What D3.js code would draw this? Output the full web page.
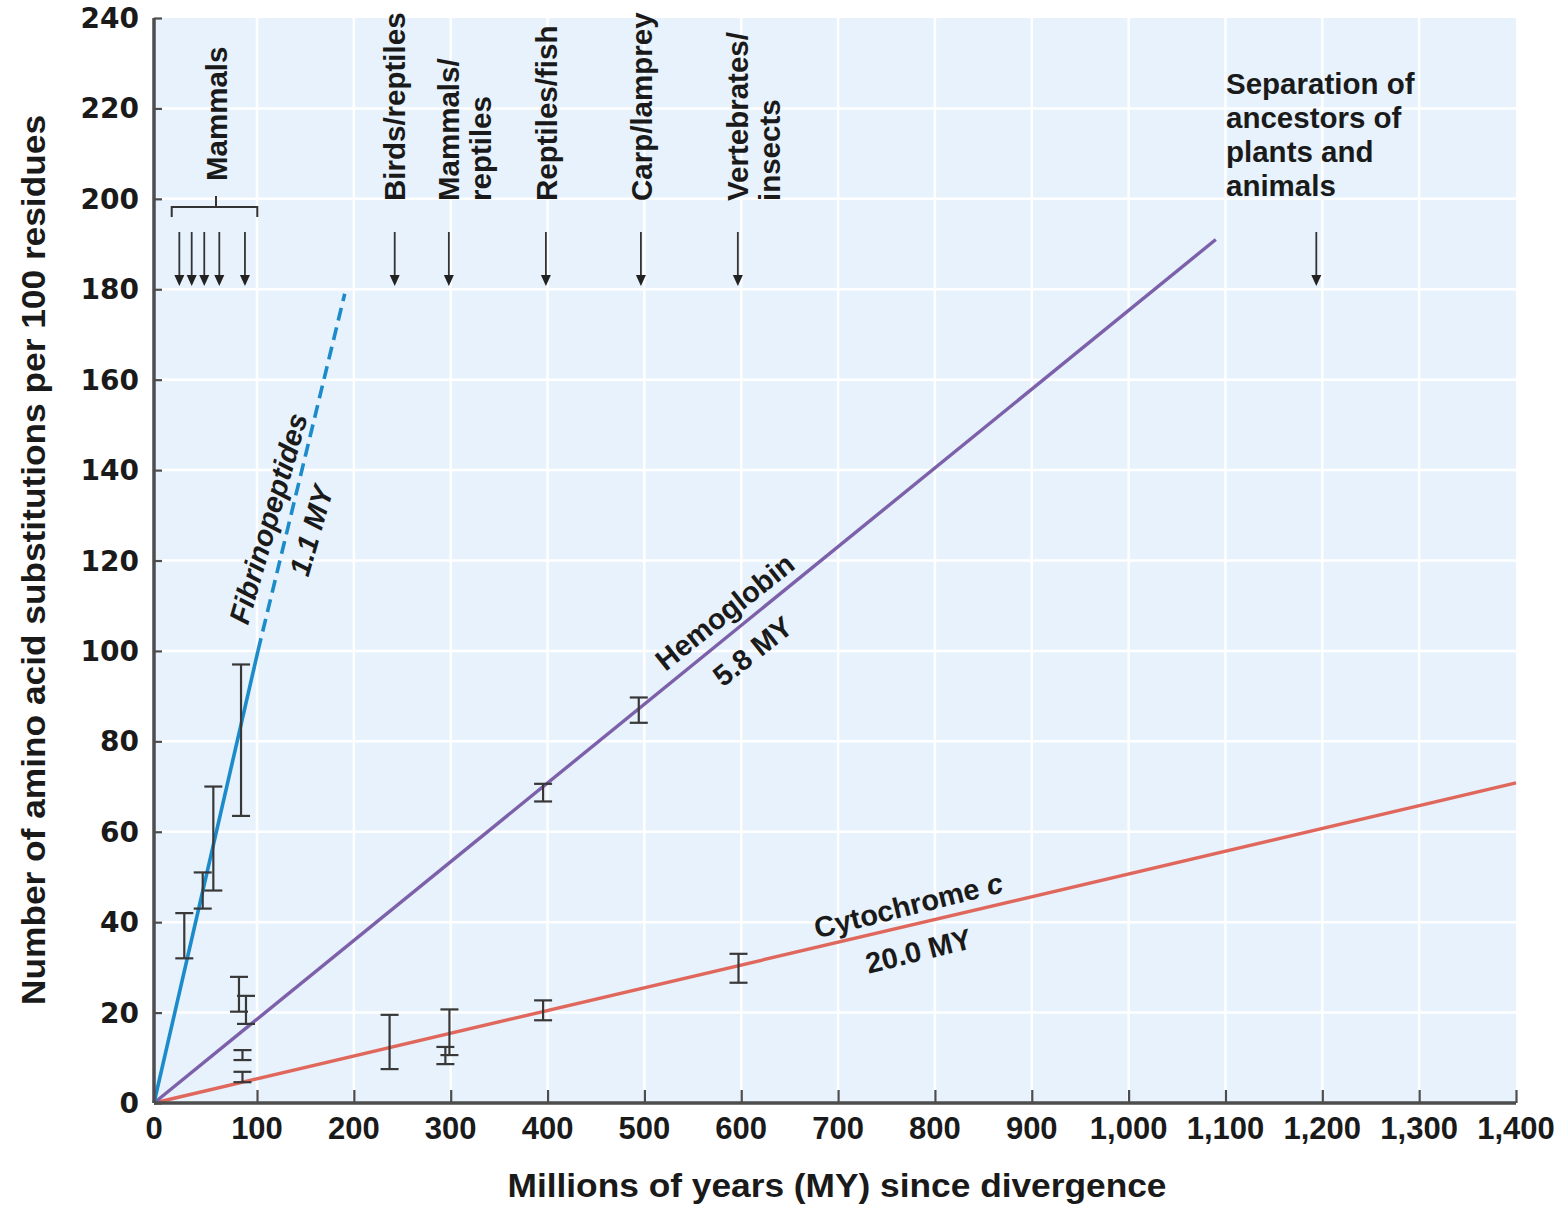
<!DOCTYPE html>
<html>
<head>
<meta charset="utf-8">
<script src="https://cdn.jsdelivr.net/npm/d3@7"></script>
<style>
  body { margin: 0; background: #fff; }
  text { font-family: "Liberation Sans", Arial, sans-serif; font-weight: bold; fill: #1a1a1a; }
</style>
</head>
<body>
<svg id="chart"></svg>
<script>

// tick labels
var xTickValues = [0, 100, 200, 300, 400, 500, 600, 700, 800, 900, 1000, 1100, 1200, 1300, 1400];
var xTickLabels = ["0", "100", "200", "300", "400", "500", "600", "700", "800", "900", "1,000", "1,100", "1,200", "1,300", "1,400"];
var yTickValues = [0, 20, 40, 60, 80, 100, 120, 140, 160, 180, 200, 220, 240];

// fitted lines (MY since divergence, substitutions per 100 residues)
var fibSolid = [[0, 0], [101, 100]];
var fibDashed = [[101, 100], [190.6, 179]];
var hemoLine = [[0, 0], [1090, 191]];
var cytoLine = [[0, 0], [1400, 70.8]];

// error bars: x, low, high
var fibBarX = [29.4, 47.3, 57.6, 84.5];
var fibBarLo = [32, 43, 47, 63.5];
var fibBarHi = [42, 51, 70, 97];

var hemoBarX = [82.5, 89.3, 395.4, 494.2];
var hemoBarLo = [20.2, 17.5, 66.7, 84.1];
var hemoBarHi = [27.9, 23.7, 70.6, 89.7];

var cytoBarX = [85.9, 85.9, 236.9, 294.5, 298.7, 395.4, 597.2];
var cytoBarLo = [9.5, 4.6, 7.5, 8.6, 10.6, 18.3, 26.6];
var cytoBarHi = [11.7, 6.9, 19.5, 12.4, 20.7, 22.7, 33];

// divergence arrows
var mammalArrowX = [24.6, 36.6, 48.8, 63.4, 88.3];
var eventArrowX = [242.2, 298.1, 398.3, 496.4, 596.5];
var eventLabels = [["Birds/reptiles"], ["Mammals/", "reptiles"], ["Reptiles/fish"], ["Carp/lamprey"], ["Vertebrates/", "insects"]];
var plantArrowX = 1193.8;
var plantLabel = ["Separation of", "ancestors of", "plants and", "animals"];

var width = 1560, height = 1206;

var svg = d3.select("#chart").attr("width", width).attr("height", height);

// the printed axis is a little stretched between 0 and 100
var x = d3.scaleLinear().domain([0, 100, 1400]).range([154, 257, 1516]);
var y = d3.scaleLinear().domain([0, 240]).range([1103, 18]);

// background + grid
svg.append("rect")
   .attr("x", x(0)).attr("y", y(240))
   .attr("width", x(1400) - x(0)).attr("height", y(0) - y(240))
   .attr("fill", "#e7f2fc");

svg.selectAll("line.vgrid").data(xTickValues.slice(1, -1)).enter()
   .append("line").attr("class", "vgrid")
   .attr("x1", function(d) { return x(d); }).attr("x2", function(d) { return x(d); })
   .attr("y1", y(240)).attr("y2", y(0))
   .attr("stroke", "#fff").attr("stroke-width", 2.5);

svg.selectAll("line.hgrid").data(yTickValues.slice(1, -1)).enter()
   .append("line").attr("class", "hgrid")
   .attr("y1", function(d) { return y(d); }).attr("y2", function(d) { return y(d); })
   .attr("x1", x(0)).attr("x2", x(1400))
   .attr("stroke", "#fff").attr("stroke-width", 2.5);

// lines
var line = d3.line().x(function(d) { return x(d[0]); }).y(function(d) { return y(d[1]); });

svg.append("path").attr("d", line(cytoLine))
   .attr("stroke", "#e0675c").attr("stroke-width", 3.4).attr("fill", "none");
svg.append("path").attr("d", line(hemoLine))
   .attr("stroke", "#7c60a9").attr("stroke-width", 3.4).attr("fill", "none");
svg.append("path").attr("d", line(fibSolid))
   .attr("stroke", "#1c8bca").attr("stroke-width", 3.6).attr("fill", "none");
svg.append("path").attr("d", line(fibDashed))
   .attr("stroke", "#1c8bca").attr("stroke-width", 3.6).attr("fill", "none")
   .attr("stroke-dasharray", "13,7");

// error bars
function errorBars(xs, lo, hi) {
  var g = svg.append("g").attr("stroke", "#383838").attr("stroke-width", 2.2).attr("fill", "none");
  xs.forEach(function(d, i) {
    var cx = x(d);
    g.append("line").attr("x1", cx).attr("x2", cx).attr("y1", y(lo[i])).attr("y2", y(hi[i]));
    g.append("line").attr("x1", cx - 9).attr("x2", cx + 9).attr("y1", y(lo[i])).attr("y2", y(lo[i]));
    g.append("line").attr("x1", cx - 9).attr("x2", cx + 9).attr("y1", y(hi[i])).attr("y2", y(hi[i]));
  });
}
errorBars(fibBarX, fibBarLo, fibBarHi);
errorBars(hemoBarX, hemoBarLo, hemoBarHi);
errorBars(cytoBarX, cytoBarLo, cytoBarHi);

// axes
var yAxis = svg.append("g").attr("transform", "translate(" + x(0) + ",0)")
   .call(d3.axisLeft(y).tickValues(yTickValues).tickSize(-8).tickFormat(""));
var xAxis = svg.append("g").attr("transform", "translate(0," + y(0) + ")")
   .call(d3.axisBottom(x).tickValues(xTickValues.slice(1)).tickSize(-13).tickFormat(""));
[yAxis, xAxis].forEach(function(a) {
  a.select(".domain").attr("stroke", "#4d4d4d").attr("stroke-width", 3.5);
  a.selectAll(".tick line").attr("stroke", "#4d4d4d").attr("stroke-width", 2.2);
});
xAxis.select(".domain").attr("d", "M" + x(0) + ",0H" + x(1400));
yAxis.select(".domain").attr("d", "M0," + y(240) + "V" + y(0));

// tick labels
svg.selectAll("text.ytl").data(yTickValues).enter()
   .append("text").attr("class", "ytl")
   .attr("x", 139).attr("y", function(d) { return y(d); })
   .attr("dy", "0.36em").attr("text-anchor", "end")
   .style("font-family", "'DejaVu Sans', sans-serif").style("font-size", "28px")
   .text(function(d) { return d; });

svg.selectAll("text.xtl").data(xTickValues).enter()
   .append("text").attr("class", "xtl")
   .attr("x", function(d) { return x(d); }).attr("y", 1139)
   .attr("text-anchor", "middle")
   .style("font-size", "31px")
   .text(function(d, i) { return xTickLabels[i]; });

// axis titles
svg.append("text")
   .attr("x", 837).attr("y", 1197).attr("text-anchor", "middle")
   .style("font-size", "34px")
   .attr("textLength", 659).attr("lengthAdjust", "spacingAndGlyphs")
   .text("Millions of years (MY) since divergence");

svg.append("text")
   .attr("transform", "translate(45,560) rotate(-90)")
   .attr("text-anchor", "middle")
   .style("font-size", "34px")
   .attr("textLength", 890).attr("lengthAdjust", "spacingAndGlyphs")
   .text("Number of amino acid substitutions per 100 residues");

// arrows
function arrow(d) {
  var cx = x(d), top = 232, tip = 286;
  var g = svg.append("g");
  g.append("line").attr("x1", cx).attr("x2", cx).attr("y1", top).attr("y2", tip - 8)
   .attr("stroke", "#333").attr("stroke-width", 1.8);
  g.append("path").attr("d", "M" + (cx - 5) + "," + (tip - 11) + "L" + (cx + 5) + "," + (tip - 11) + "L" + cx + "," + tip + "Z")
   .attr("fill", "#222");
}
mammalArrowX.forEach(arrow);
eventArrowX.forEach(arrow);
arrow(plantArrowX);

// mammals bracket
svg.append("path")
   .attr("d", "M" + x(17.2) + ",217V207H" + x(100.3) + "V217M" + x(60.2) + ",207V196")
   .attr("stroke", "#333").attr("stroke-width", 2).attr("fill", "none");
svg.append("text")
   .attr("transform", "translate(" + x(60.2) + ",181) rotate(-90)")
   .attr("dy", "0.36em").style("font-size", "29.5px")
   .text("Mammals");

// event labels (vertical)
eventLabels.forEach(function(lines, i) {
  var t = svg.append("text")
     .attr("transform", "translate(" + x(eventArrowX[i]) + ",201) rotate(-90)")
     .style("font-size", "29.5px");
  lines.forEach(function(s, j) {
    t.append("tspan").attr("x", 0).attr("y", j * 32).attr("dy", "0.36em").text(s);
  });
});

// plants/animals label
var pl = svg.append("text").style("font-size", "29.5px");
plantLabel.forEach(function(s, j) {
  pl.append("tspan").attr("x", 1226).attr("y", 94 + j * 34).text(s);
});

// line labels
function lineLabel(s, dx, dy, angle, italic) {
  svg.append("text")
     .attr("transform", "translate(" + x(dx) + "," + y(dy) + ") rotate(" + angle + ")")
     .attr("text-anchor", "middle").attr("dy", "0.36em")
     .style("font-size", "29px").style("font-style", italic ? "italic" : "normal")
     .text(s);
}
lineLabel("Fibrinopeptides", 111.3, 129.3, -74, true);
lineLabel("1.1 MY", 155.6, 126.6, -74, true);
lineLabel("Hemoglobin", 582.8, 108.7, -38.5, false);
lineLabel("5.8 MY", 611.6, 100, -38.5, false);

var cy = svg.append("text")
   .attr("transform", "translate(" + x(772.6) + "," + y(43.8) + ") rotate(-14)")
   .attr("text-anchor", "middle").attr("dy", "0.36em")
   .style("font-size", "29px");
cy.append("tspan").text("Cytochrome ");
cy.append("tspan").style("font-style", "italic").text("c");
lineLabel("20.0 MY", 782.9, 33.7, -14, false);

</script>
</body>
</html>
